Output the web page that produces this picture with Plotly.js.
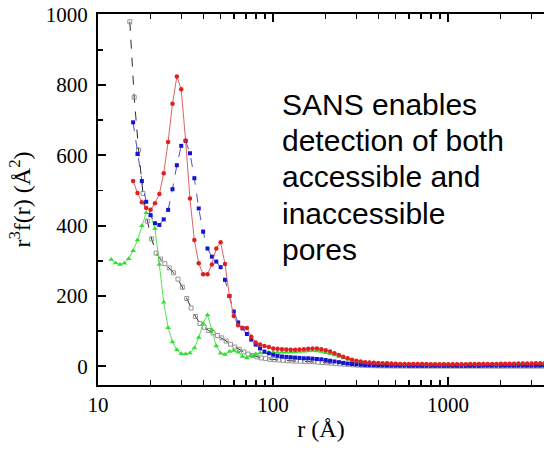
<!DOCTYPE html>
<html>
<head>
<meta charset="utf-8">
<script src="https://cdn.plot.ly/plotly-3.0.1.min.js"></script>
<style>
  html, body { margin: 0; padding: 0; background: #fff; overflow: hidden; }
  #chart { width: 544px; height: 451px; }
</style>
</head>
<body>
<div id="chart"></div>
<script>
// Pore radius grid (Å) shared by the green, red and blue distributions
const rPore = [
  11.9, 12.6, 13.35, 14.15, 14.98, 15.87, 16.81, 17.81, 18.86, 19.98,
  21.17, 22.42, 23.75, 25.16, 26.65, 28.23, 29.9, 31.68, 33.55, 35.54,
  37.65, 39.89, 42.25, 44.76, 47.41, 50.22, 53.2, 56.36, 59.7, 63.24,
  66.99, 70.96, 75.17, 79.63, 84.35, 89.35, 94.65, 100.3, 106.2, 112.5,
  119.2, 126.3, 133.8, 141.7, 150.1, 159.0, 168.4, 178.4, 189.0, 200.2,
  212.1, 224.7, 238.0, 252.1, 267.1, 282.9, 299.7, 317.5, 336.3, 356.3,
  377.4, 399.8, 423.5, 448.6, 475.2, 503.4, 533.3, 564.9, 598.4, 633.9,
  671.5, 711.3, 753.5, 798.2, 845.5, 895.7, 948.8, 1005, 1065, 1128,
  1195, 1266, 1341, 1420, 1504, 1594, 1688, 1788, 1894, 2007,
  2126, 2252, 2385, 2527, 2677, 2835, 3004, 3182, 3371, 3571
];

// Radius grid (Å) of the black distribution
const rBlack = [
  15.2, 16.1, 17.06, 18.07, 19.14, 20.27, 21.48, 22.75, 24.1, 25.53,
  27.04, 28.65, 30.35, 32.15, 34.05, 36.07, 38.21, 40.48, 42.88, 45.42,
  48.12, 50.97, 53.99, 57.2, 60.59, 64.18, 67.99, 72.02, 76.29, 80.82,
  85.61, 90.69, 96.06, 101.8, 107.8, 114.2, 120.9, 128.1, 135.7, 143.8,
  152.3, 161.3, 170.9, 181.0, 191.8, 203.1, 215.2, 227.9, 241.5, 255.8,
  271.0, 287.0, 304.1, 322.1, 341.2, 361.4, 382.9, 405.6, 429.6, 455.1,
  482.1, 510.7, 541.0, 573.1, 607.1, 643.1, 681.2, 721.6, 764.4, 809.8,
  857.8, 908.7, 962.6, 1020, 1080, 1144, 1212, 1284, 1360, 1441,
  1526, 1617, 1713, 1814, 1922, 2036, 2156, 2284, 2420, 2563,
  2715, 2876, 3047, 3228, 3419, 3622
];

// r^3 f(r) values (Å^2)
const blackVals = [
  980, 765, 615, 492, 413, 362, 322, 305, 292, 280,
  266, 248, 225, 193, 166, 142, 122, 111, 102, 95,
  88, 81, 72, 63, 55, 48, 41, 35, 31, 27,
  24, 22, 20, 19, 18, 17, 16, 15.5, 15, 14.5,
  14, 13.5, 13, 12, 11, 10, 9, 8, 7, 6,
  5, 4.2, 3.5, 3, 2.5, 2, 1.7, 1.4, 1.2, 1,
  0.9, 0.8, 0.8, 0.7, 0.7, 0.6, 0.6, 0.6, 0.5, 0.5,
  0.5, 0.5, 0.5, 0.5, 0.5, 0.5, 0.5, 0.5, 0.5, 0.5,
  0.5, 0.5, 0.5, 0.5, 0.5, 0.5, 0.5, 0.5, 0.5, 0.5,
  0.5, 0.5, 0.5, 0.5, 0.5, 0.5
];

const greenVals = [
  304, 294, 290, 293, 306, 329, 359, 400, 437, 430,
  392, 290, 182, 110, 69, 47, 36, 35, 38, 52,
  82, 122, 146, 104, 58, 37, 34, 42, 45, 40,
  28, 24, 30, 35, 38, 39, 40, 40, 40, 40,
  40, 41, 41, 42, 43, 44, 45, 44, 42, 39,
  36, 32, 28, 24, 20, 17, 14, 12, 10.5, 9.5,
  8.5, 8, 7.5, 7, 6.5, 6, 6, 5.5, 5.5, 5.5,
  5.5, 5, 5, 5, 5, 5, 5, 5, 5, 5,
  5, 5, 5.5, 5.5, 5.5, 5.5, 5.5, 6, 6, 6,
  6, 6, 6.5, 6.5, 6.5, 6.5, 7, 7, 7, 7.5
];

// red and blue start at the sixth grid radius (15.87 Å)
const redVals = [
  527, 493, 467, 450, 445, 464, 490, 549, 638, 747,
  824, 788, 642, 477, 359, 293, 262, 262, 290, 335,
  353, 291, 200, 143, 117, 110, 109, 84, 68, 62,
  58, 55, 51, 50, 49, 48, 47, 47, 48, 49,
  50, 51, 51, 49, 46, 42, 37, 32, 27, 23,
  19, 16, 14, 12, 11, 10, 9.5, 9, 8.5, 8,
  7.5, 7, 7, 7, 6.5, 6.5, 6.5, 6.5, 6, 6,
  6, 6, 6, 6, 6, 6, 6, 6.5, 6.5, 6.5,
  7, 7, 7, 7, 7.5, 7.5, 7.5, 7.5, 8, 8,
  8, 8, 8.5, 8.5, 9
];

const blueVals = [
  694, 604, 527, 468, 430, 407, 402, 418, 445, 504,
  572, 627, 641, 606, 535, 449, 383, 335, 312, 298,
  282, 246, 200, 156, 125, 108, 92, 76, 62, 51,
  42, 37, 33, 30, 28, 27, 26, 25, 24, 23,
  23, 22, 21, 20, 18, 16, 14, 12, 10, 8,
  6.5, 5.5, 4.5, 4, 3.5, 3, 2.5, 2.5, 2, 2,
  2, 2, 2, 1.5, 1.5, 1.5, 1.5, 1.5, 1.5, 1.5,
  1.5, 1.5, 1.5, 1.5, 1.5, 1.5, 1.5, 1.5, 1.5, 1.5,
  2, 2, 2, 2, 2, 2, 2, 2, 2, 2,
  2, 2, 2, 2, 2.5
];

const xTickVals = [10, 100, 1000];
const xTickText = ['10', '100', '1000'];
const xMinorVals = [20, 30, 40, 50, 60, 70, 80, 90, 200, 300, 400, 500, 600, 700, 800, 900, 2000, 3000];
const yTickVals = [0, 200, 400, 600, 800, 1000];
const yMinorVals = [100, 300, 500, 700, 900];

const noteLines = [
  'SANS enables',
  'detection of both',
  'accessible and',
  'inaccessible',
  'pores'
];
const noteY = [0.755, 0.659, 0.561, 0.462, 0.364];

const rDist = rPore.slice(5);

const traces = [
  {
    x: rBlack, y: blackVals, type: 'scatter', mode: 'lines+markers',
    line: { color: '#111', width: 0.9, dash: 'dash' },
    marker: { symbol: 'square-open', size: 4, color: '#8a8a8a', line: { width: 0.9, color: '#8a8a8a' } }
  },
  {
    x: rPore, y: greenVals, type: 'scatter', mode: 'lines+markers',
    line: { color: '#45dc45', width: 0.9 },
    marker: { symbol: 'triangle-up', size: 5, color: '#2fe02f' }
  },
  {
    x: rDist, y: blueVals, type: 'scatter', mode: 'lines+markers',
    line: { color: '#3a3ac8', width: 0.9, dash: 'dash' },
    marker: { symbol: 'square', size: 4, color: '#1414d2' }
  },
  {
    x: rDist, y: redVals, type: 'scatter', mode: 'lines+markers',
    line: { color: '#d85050', width: 0.9 },
    marker: { symbol: 'circle', size: 4.5, color: '#e02020' }
  }
];

const serif = '"Liberation Serif", "Times New Roman", Times, serif';

const layout = {
  width: 544,
  height: 451,
  margin: { l: 98, r: 0, t: 14, b: 66 },
  paper_bgcolor: '#ffffff',
  plot_bgcolor: '#ffffff',
  showlegend: false,
  font: { family: serif, color: '#000' },
  xaxis: {
    type: 'log',
    range: [1, 3.549],
    tickvals: xTickVals,
    ticktext: xTickText,
    ticks: 'inside',
    ticklen: 8,
    tickwidth: 1.8,
    tickcolor: '#000',
    showline: true,
    linewidth: 2,
    linecolor: '#000',
    mirror: 'ticks',
    showgrid: false,
    zeroline: false,
    tickfont: { family: serif, size: 21, color: '#000' },
    ticklabelstandoff: 0,
    minor: { tickvals: xMinorVals, ticks: 'inside', ticklen: 5, tickwidth: 1.5, tickcolor: '#000', showgrid: false },
    title: { text: 'r (Å)', font: { family: serif, size: 24, color: '#000' }, standoff: 4 }
  },
  yaxis: {
    range: [-53, 1002],
    tickvals: yTickVals,
    ticks: 'inside',
    ticklen: 8,
    tickwidth: 1.8,
    tickcolor: '#000',
    showline: true,
    linewidth: 2,
    linecolor: '#000',
    mirror: false,
    showgrid: false,
    zeroline: false,
    tickfont: { family: serif, size: 21, color: '#000' },
    ticklabelstandoff: 4,
    minor: { tickvals: yMinorVals, ticks: 'inside', ticklen: 5, tickwidth: 1.5, tickcolor: '#000', showgrid: false },
    title: { text: 'r<sup>3</sup>f(r) (Å<sup>2</sup>)', font: { family: serif, size: 24, color: '#000' }, standoff: 8 }
  },
  annotations: noteLines.map((t, i) => ({
    text: t,
    xref: 'paper', yref: 'paper',
    x: 0.408, y: noteY[i],
    xanchor: 'left', yanchor: 'middle',
    showarrow: false,
    align: 'left',
    font: { family: '"Liberation Sans", Arial, sans-serif', size: 30, color: '#000' }
  }))
};

Plotly.newPlot('chart', traces, layout, { displayModeBar: false, staticPlot: true });
</script>
</body>
</html>
